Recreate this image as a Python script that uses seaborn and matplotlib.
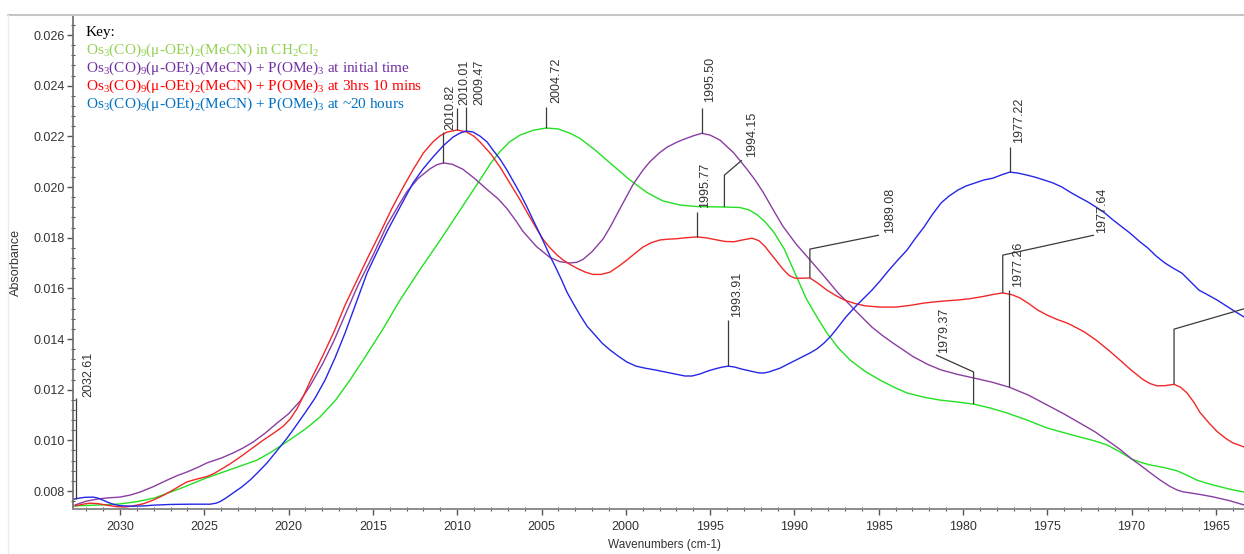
import numpy as np
import pandas as pd
import matplotlib
matplotlib.use("Agg")
import matplotlib.pyplot as plt
from matplotlib.lines import Line2D
from matplotlib.ticker import MultipleLocator, FormatStrFormatter
import seaborn as sns

# ---------------------------------------------------------------- spectra
green_wn = [2032.79, 2031.19, 2030.00, 2029.00, 2027.98, 2026.50, 2024.90, 2023.40, 2021.87, 2021.00,
            2019.98, 2019.00, 2018.14, 2017.20, 2016.36, 2015.50, 2014.40, 2013.39, 2012.20, 2011.00,
            2009.80, 2008.65, 2008.00, 2007.46, 2006.90, 2006.27, 2005.50, 2004.72, 2004.00, 2003.30,
            2002.72, 2001.80, 2000.76, 1999.80, 1998.74, 1997.80, 1996.79, 1995.80, 1994.15, 1993.23,
            1992.70, 1992.20, 1991.70, 1991.20, 1990.60, 1990.00, 1989.30, 1988.60, 1988.07, 1987.40,
            1986.70, 1985.80, 1984.92, 1984.10, 1983.32, 1982.30, 1981.36, 1980.40, 1979.37, 1978.40,
            1977.39, 1976.20, 1975.02, 1974.00, 1973.06, 1972.20, 1971.46, 1970.70, 1969.98, 1969.40,
            1968.91, 1968.10, 1967.31, 1966.70, 1966.12, 1965.50, 1964.94, 1964.10, 1963.33]
green_abs = [0.00741, 0.00745, 0.00749, 0.00758, 0.00772, 0.00808, 0.00851, 0.00886, 0.00922, 0.00955,
             0.01000, 0.01045, 0.01092, 0.01160, 0.01238, 0.01325, 0.01440, 0.01554, 0.01675, 0.01791,
             0.01912, 0.02028, 0.02095, 0.02140, 0.02178, 0.02205, 0.02224, 0.02233, 0.02229, 0.02212,
             0.02192, 0.02145, 0.02085, 0.02030, 0.01978, 0.01945, 0.01929, 0.01923, 0.01921, 0.01919,
             0.01910, 0.01890, 0.01860, 0.01820, 0.01755, 0.01665, 0.01560, 0.01480, 0.01424, 0.01365,
             0.01317, 0.01272, 0.01238, 0.01210, 0.01187, 0.01170, 0.01159, 0.01152, 0.01143, 0.01128,
             0.01108, 0.01080, 0.01049, 0.01030, 0.01013, 0.00998, 0.00982, 0.00955, 0.00926, 0.00912,
             0.00903, 0.00893, 0.00880, 0.00862, 0.00843, 0.00830, 0.00820, 0.00806, 0.00796]

purple_wn = [2032.67, 2032.00, 2031.36, 2030.70, 2030.00, 2029.40, 2028.81, 2028.00, 2027.21, 2026.60,
             2026.03, 2025.40, 2024.84, 2024.00, 2023.30, 2022.70, 2022.11, 2021.40, 2020.69, 2020.00,
             2019.32, 2018.73, 2018.00, 2017.30, 2016.65, 2015.90, 2015.00, 2014.16, 2013.50, 2012.98,
             2012.30, 2011.61, 2011.20, 2010.82, 2010.30, 2009.66, 2008.90, 2008.23, 2007.60, 2007.05,
             2006.50, 2006.10, 2005.30, 2004.50, 2003.90, 2003.31, 2002.90, 2002.54, 2002.00, 2001.35,
             2000.90, 2000.52, 2000.00, 1999.57, 1999.00, 1998.57, 1998.00, 1997.56, 1997.00, 1996.61,
             1996.00, 1995.50, 1995.00, 1994.41, 1993.60, 1992.81, 1992.30, 1991.86, 1991.30, 1990.68,
             1989.90, 1989.07, 1988.20, 1987.41, 1986.90, 1986.41, 1985.90, 1985.40, 1984.80, 1984.15,
             1983.50, 1982.97, 1982.10, 1981.30, 1980.30, 1979.35, 1978.30, 1977.26, 1976.10, 1975.02,
             1974.00, 1973.06, 1972.20, 1971.46, 1970.70, 1969.98, 1969.40, 1968.91, 1968.30, 1967.72,
             1967.30, 1966.95, 1966.00, 1965.17, 1964.20, 1963.33]
purple_abs = [0.00745, 0.00760, 0.00768, 0.00773, 0.00776, 0.00784, 0.00796, 0.00818, 0.00843, 0.00861,
              0.00875, 0.00893, 0.00911, 0.00930, 0.00950, 0.00970, 0.00993, 0.01028, 0.01068, 0.01105,
              0.01155, 0.01215, 0.01300, 0.01395, 0.01495, 0.01610, 0.01730, 0.01850, 0.01925, 0.01982,
              0.02035, 0.02072, 0.02088, 0.02095, 0.02090, 0.02070, 0.02030, 0.01990, 0.01955, 0.01915,
              0.01865, 0.01825, 0.01765, 0.01722, 0.01705, 0.01700, 0.01703, 0.01714, 0.01745, 0.01795,
              0.01845, 0.01893, 0.01957, 0.02010, 0.02065, 0.02100, 0.02135, 0.02157, 0.02176, 0.02187,
              0.02202, 0.02212, 0.02205, 0.02185, 0.02135, 0.02070, 0.02025, 0.01980, 0.01915, 0.01845,
              0.01775, 0.01712, 0.01645, 0.01582, 0.01548, 0.01514, 0.01480, 0.01447, 0.01415, 0.01384,
              0.01355, 0.01331, 0.01300, 0.01278, 0.01260, 0.01246, 0.01230, 0.01210, 0.01178, 0.01140,
              0.01104, 0.01068, 0.01035, 0.01001, 0.00965, 0.00926, 0.00898, 0.00873, 0.00843, 0.00818,
              0.00804, 0.00797, 0.00787, 0.00777, 0.00762, 0.00745]

red_wn = [2032.67, 2032.20, 2031.78, 2031.30, 2030.77, 2030.18, 2029.70, 2029.23, 2028.60, 2028.04,
          2027.40, 2026.86, 2026.40, 2026.03, 2025.40, 2024.84, 2024.40, 2024.07, 2023.50, 2022.88,
          2022.20, 2021.52, 2020.90, 2020.33, 2019.90, 2019.50, 2019.10, 2018.73, 2018.00, 2017.30,
          2016.65, 2016.00, 2015.30, 2014.58, 2013.90, 2013.20, 2012.62, 2012.00, 2011.44, 2011.00,
          2010.60, 2010.01, 2009.42, 2009.00, 2008.65, 2008.00, 2007.46, 2006.90, 2006.27, 2005.77,
          2005.27, 2004.90, 2004.50, 2004.10, 2003.72, 2003.30, 2002.89, 2002.40, 2001.95, 2001.45,
          2000.94, 2000.40, 1999.93, 1999.40, 1998.98, 1998.50, 1997.97, 1997.50, 1996.96, 1996.40,
          1995.77, 1995.20, 1994.59, 1994.10, 1993.58, 1993.00, 1992.51, 1992.10, 1991.74, 1991.20,
          1990.68, 1990.30, 1989.96, 1989.50, 1989.08, 1988.60, 1988.07, 1987.50, 1987.00, 1986.40,
          1985.81, 1984.90, 1983.97, 1983.10, 1982.31, 1981.30, 1980.30, 1979.60, 1978.87, 1978.20,
          1977.64, 1977.10, 1976.62, 1976.10, 1975.61, 1975.00, 1974.37, 1973.90, 1973.54, 1972.80,
          1972.11, 1971.40, 1970.69, 1970.00, 1969.32, 1968.90, 1968.49, 1968.00, 1967.48, 1967.10,
          1966.71, 1966.30, 1965.94, 1965.40, 1964.93, 1964.40, 1963.99, 1963.33]
red_abs = [0.00741, 0.00748, 0.00752, 0.00750, 0.00744, 0.00738, 0.00737, 0.00741, 0.00750, 0.00764,
           0.00784, 0.00804, 0.00822, 0.00836, 0.00848, 0.00857, 0.00870, 0.00883, 0.00906, 0.00934,
           0.00967, 0.01000, 0.01028, 0.01055, 0.01085, 0.01125, 0.01178, 0.01232, 0.01330, 0.01430,
           0.01534, 0.01625, 0.01722, 0.01818, 0.01912, 0.02000, 0.02068, 0.02135, 0.02178, 0.02203,
           0.02217, 0.02225, 0.02217, 0.02200, 0.02178, 0.02130, 0.02079, 0.02018, 0.01949, 0.01890,
           0.01833, 0.01793, 0.01760, 0.01733, 0.01712, 0.01694, 0.01679, 0.01664, 0.01655, 0.01655,
           0.01664, 0.01688, 0.01712, 0.01741, 0.01763, 0.01780, 0.01791, 0.01794, 0.01796, 0.01800,
           0.01803, 0.01799, 0.01791, 0.01785, 0.01784, 0.01792, 0.01798, 0.01788, 0.01765, 0.01720,
           0.01676, 0.01650, 0.01640, 0.01640, 0.01641, 0.01620, 0.01593, 0.01570, 0.01553, 0.01540,
           0.01531, 0.01526, 0.01526, 0.01533, 0.01542, 0.01549, 0.01554, 0.01559, 0.01567, 0.01576,
           0.01582, 0.01575, 0.01562, 0.01540, 0.01516, 0.01494, 0.01476, 0.01465, 0.01454, 0.01428,
           0.01396, 0.01358, 0.01317, 0.01276, 0.01240, 0.01224, 0.01215, 0.01216, 0.01221, 0.01210,
           0.01187, 0.01150, 0.01110, 0.01068, 0.01035, 0.01007, 0.00990, 0.00974]

blue_wn = [2032.79, 2032.61, 2032.10, 2031.60, 2031.30, 2031.01, 2030.70, 2030.42, 2030.00, 2029.30,
           2028.64, 2028.04, 2027.00, 2025.85, 2024.66, 2024.30, 2024.07, 2023.70, 2023.30, 2022.80,
           2022.29, 2021.80, 2021.28, 2020.90, 2020.51, 2020.10, 2019.74, 2019.03, 2018.43, 2017.84,
           2017.25, 2016.65, 2016.00, 2015.35, 2014.76, 2014.16, 2013.39, 2012.62, 2012.03, 2011.44,
           2010.84, 2010.25, 2009.83, 2009.47, 2009.06, 2008.65, 2008.23, 2007.88, 2007.46, 2007.05,
           2006.69, 2006.28, 2005.86, 2005.50, 2005.15, 2004.79, 2004.50, 2004.14, 2003.78, 2003.49,
           2003.13, 2002.72, 2002.30, 2001.83, 2001.41, 2000.94, 2000.46, 1999.93, 1999.40, 1998.86,
           1998.27, 1997.68, 1997.08, 1996.49, 1996.07, 1995.60, 1995.12, 1994.71, 1994.29, 1993.91,
           1993.52, 1993.17, 1992.63, 1992.10, 1991.80, 1991.51, 1990.85, 1990.26, 1989.67, 1989.07,
           1988.66, 1988.24, 1987.83, 1987.41, 1986.94, 1986.41, 1985.93, 1985.40, 1984.92, 1984.39,
           1983.86, 1983.32, 1982.85, 1982.31, 1981.84, 1981.30, 1980.83, 1980.30, 1979.82, 1979.29,
           1978.75, 1978.22, 1977.75, 1977.22, 1976.74, 1976.20, 1975.73, 1975.20, 1974.66, 1974.13,
           1973.65, 1973.12, 1972.59, 1972.11, 1971.58, 1971.10, 1970.63, 1970.09, 1969.56, 1969.03,
           1968.55, 1968.02, 1967.54, 1967.01, 1966.54, 1966.00, 1965.47, 1964.93, 1964.46, 1963.99,
           1963.33]
blue_abs = [0.00766, 0.00770, 0.00775, 0.00776, 0.00772, 0.00764, 0.00755, 0.00748, 0.00742, 0.00740,
            0.00741, 0.00744, 0.00747, 0.00748, 0.00748, 0.00752, 0.00758, 0.00773, 0.00792, 0.00815,
            0.00843, 0.00875, 0.00911, 0.00942, 0.00974, 0.01008, 0.01041, 0.01108, 0.01167, 0.01238,
            0.01325, 0.01424, 0.01542, 0.01660, 0.01743, 0.01825, 0.01921, 0.02016, 0.02071, 0.02118,
            0.02162, 0.02197, 0.02213, 0.02221, 0.02217, 0.02201, 0.02178, 0.02146, 0.02110, 0.02067,
            0.02024, 0.01976, 0.01921, 0.01870, 0.01822, 0.01771, 0.01728, 0.01680, 0.01629, 0.01585,
            0.01542, 0.01495, 0.01451, 0.01416, 0.01384, 0.01357, 0.01333, 0.01309, 0.01293, 0.01285,
            0.01278, 0.01270, 0.01262, 0.01254, 0.01254, 0.01262, 0.01274, 0.01282, 0.01289, 0.01293,
            0.01289, 0.01282, 0.01274, 0.01266, 0.01266, 0.01270, 0.01285, 0.01305, 0.01325, 0.01345,
            0.01361, 0.01384, 0.01412, 0.01447, 0.01487, 0.01526, 0.01558, 0.01593, 0.01629, 0.01672,
            0.01712, 0.01751, 0.01795, 0.01842, 0.01889, 0.01937, 0.01964, 0.01988, 0.02004, 0.02016,
            0.02028, 0.02035, 0.02047, 0.02059, 0.02055, 0.02047, 0.02039, 0.02028, 0.02016, 0.02000,
            0.01980, 0.01960, 0.01941, 0.01921, 0.01897, 0.01870, 0.01846, 0.01818, 0.01787, 0.01759,
            0.01728, 0.01700, 0.01680, 0.01660, 0.01629, 0.01593, 0.01574, 0.01554, 0.01534, 0.01514,
            0.01487]

samples = ["CH2Cl2", "initial", "3h10", "20h"]
key_lines = [
    r"Os$_3$(CO)$_9$(μ-OEt)$_2$(MeCN) in CH$_2$Cl$_2$",
    r"Os$_3$(CO)$_9$(μ-OEt)$_2$(MeCN) + P(OMe)$_3$ at initial time",
    r"Os$_3$(CO)$_9$(μ-OEt)$_2$(MeCN) + P(OMe)$_3$ at 3hrs 10 mins",
    r"Os$_3$(CO)$_9$(μ-OEt)$_2$(MeCN) + P(OMe)$_3$ at ~20 hours",
]
x_ticks = [2030, 2025, 2020, 2015, 2010, 2005, 2000, 1995, 1990, 1985, 1980, 1975, 1970, 1965]

# peak labels: (wavenumber, sample, top of vertical leader, elbow point, text anchor)
peak_labels = [
    (2032.61, "20h",     0.01167, None,               (2032.25, 0.01171)),
    (2010.82, "initial", 0.02217, None,               (2010.78, 0.02225)),
    (2010.01, "3h10",    0.02312, None,               (2009.95, 0.02324)),
    (2009.47, "20h",     0.02316, None,               (2009.05, 0.02324)),
    (2004.72, "CH2Cl2",  0.02316, None,               (2004.50, 0.02331)),
    (1995.50, "initial", 0.02312, None,               (1995.36, 0.02335)),
    (1994.15, "CH2Cl2",  0.02047, (1993.11, 0.02106), (1992.87, 0.02118)),
    (1995.77, "3h10",    0.01901, None,               (1995.66, 0.01917)),
    (1993.91, "20h",     0.01475, None,               (1993.76, 0.01487)),
    (1989.08, "3h10",    0.01755, (1984.98, 0.01810), (1984.69, 0.01818)),
    (1979.37, "CH2Cl2",  0.01270, (1981.60, 0.01337), (1981.48, 0.01345)),
    (1977.26, "initial", 0.01593, None,               (1977.09, 0.01605)),
    (1977.64, "3h10",    0.01731, (1972.23, 0.01810), (1972.11, 0.01818)),
    (1977.22, "20h",     0.02158, None,               (1977.03, 0.02174)),
    (1967.48, "3h10",    0.01439, (1962.98, 0.01526), None),
]

# ---------------------------------------------------------------- long table
series = {
    "CH2Cl2": (green_wn, green_abs),
    "initial": (purple_wn, purple_abs),
    "3h10": (red_wn, red_abs),
    "20h": (blue_wn, blue_abs),
}
df = pd.concat(
    [pd.DataFrame({"wavenumber": w, "absorbance": a, "sample": s})
     for s, (w, a) in series.items()],
    ignore_index=True,
)

line_colors = {"CH2Cl2": "#22e022", "initial": "#8a3ea2", "3h10": "#f02828", "20h": "#2626e8"}
key_colors = ["#92d050", "#7030a0", "#ff0000", "#0070c0"]

sns.set_style("ticks")
plt.rcParams["font.family"] = ["Liberation Sans", "DejaVu Sans"]
plt.rcParams["mathtext.default"] = "regular"

W, H = 1244, 554
fig = plt.figure(figsize=(W / 100, H / 100), dpi=100)
ax = fig.add_axes([73 / W, (H - 509) / H, (W - 73) / W, (509 - 15) / H])

sns.lineplot(data=df, x="wavenumber", y="absorbance", hue="sample",
             hue_order=samples, palette=line_colors, estimator=None,
             linewidth=1.0, legend=False, ax=ax)

ax.set_xlim(2032.79, 1963.33)
ax.set_ylim(0.00729, 0.02679)
ax.set_xticks(x_ticks)
ax.xaxis.set_minor_locator(MultipleLocator(1))
ax.yaxis.set_major_locator(MultipleLocator(0.002))
ax.yaxis.set_minor_locator(MultipleLocator(0.0004))
ax.yaxis.set_major_formatter(FormatStrFormatter("%.3f"))

for side in ("top", "right"):
    ax.spines[side].set_visible(False)
ax.spines["left"].set_color("#6a6a6a")
ax.spines["left"].set_linewidth(1.2)
ax.spines["bottom"].set_color("#8c8c8c")
ax.spines["bottom"].set_linewidth(1.4)

ax.tick_params(axis="both", which="major", direction="out", length=4, width=1,
               color="#555555", labelsize=9, labelcolor="#333333")
ax.tick_params(axis="y", which="major", pad=2)
ax.tick_params(axis="x", which="major", pad=5)
ax.tick_params(axis="both", which="minor", direction="inout", length=3, width=0.8,
               color="#555555")

ax.set_xlabel("Wavenumbers (cm-1)", fontsize=8.5, color="#333333")
ax.set_ylabel("Absorbance", fontsize=9, color="#333333")
ax.xaxis.set_label_coords((664 - 73) / (W - 73), -(539 - 509) / (509 - 15))
ax.yaxis.set_label_coords((22 - 73) / (W - 73), 0.5)

# peak labels with leaders
for value, sample, knee, elbow, anchor in peak_labels:
    w, a = series[sample]
    order = np.argsort(w)
    foot = float(np.interp(value, np.asarray(w)[order], np.asarray(a)[order]))
    xs, ys = [value, value], [foot, knee]
    if elbow is not None:
        xs.append(elbow[0])
        ys.append(elbow[1])
    ax.plot(xs, ys, color="#3a3a3a", lw=0.9, solid_capstyle="butt", zorder=3)
    if anchor is not None:
        ax.text(anchor[0], anchor[1], f"{value:.2f}", rotation=90, ha="left",
                va="bottom", fontsize=9, color="#333333", zorder=4)

# outer frame lines
fig.add_artist(Line2D([8 / W, 1.0], [1 - 15 / H, 1 - 15 / H], color="#c4c4c4",
                      lw=1.5, transform=fig.transFigure))
fig.add_artist(Line2D([8 / W, 8 / W], [0, 1 - 15 / H], color="#ececec",
                      lw=1.0, transform=fig.transFigure))

# key
serif = ["Liberation Serif", "DejaVu Serif"]
fig.text(86 / W, 1 - 36 / H, "Key:", family=serif, fontsize=11, color="black",
         va="baseline", ha="left")
for i, (txt, col) in enumerate(zip(key_lines, key_colors)):
    fig.text(86 / W, 1 - (54 + 18 * i) / H, txt, family=serif, fontsize=11,
             color=col, va="baseline", ha="left")

fig.savefig("out.png", dpi=100)
